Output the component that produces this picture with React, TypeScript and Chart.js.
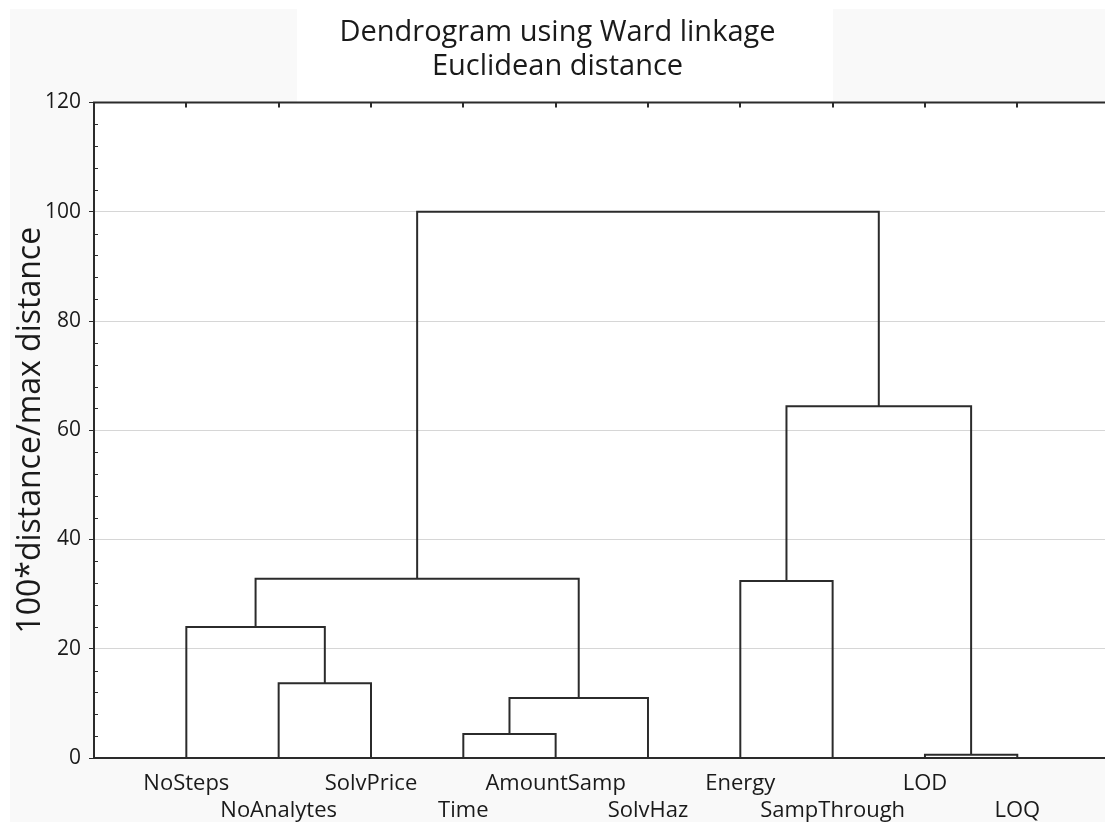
import React, { useEffect, useRef } from "react";
import { Chart, registerables } from "chart.js";

Chart.register(...registerables);

// ---- data ----
const leafLabels = [
  "NoSteps",
  "NoAnalytes",
  "SolvPrice",
  "Time",
  "AmountSamp",
  "SolvHaz",
  "Energy",
  "SampThrough",
  "LOD",
  "LOQ",
];
// linkage: node ids 0..9 are leaves, each merge creates node 10, 11, ...
const mergeLeft = [8, 3, 11, 1, 0, 6, 14, 15, 16];
const mergeRight = [9, 4, 5, 2, 13, 7, 12, 10, 17];
const mergeHeight = [0.6, 4.4, 11.0, 13.7, 24.0, 32.4, 32.8, 64.4, 100];
const yTickValues = [0, 20, 40, 60, 80, 100, 120];
const titleLines = ["Dendrogram using Ward linkage", "Euclidean distance"];
const yAxisTitle = "100*distance/max distance";

const FONT = "'Open Sans', 'Noto Sans', sans-serif";
const LINE = "#2b2b2b";

function buildDatasets() {
  const pos: number[] = leafLabels.map((_, i) => i + 1);
  const hgt: number[] = leafLabels.map(() => 0);
  return mergeLeft.map((l, k) => {
    const r = mergeRight[k];
    const h = mergeHeight[k];
    const data = [
      { x: pos[l], y: hgt[l] },
      { x: pos[l], y: h },
      { x: pos[r], y: h },
      { x: pos[r], y: hgt[r] },
    ];
    pos.push((pos[l] + pos[r]) / 2);
    hgt.push(h);
    return {
      data,
      borderColor: LINE,
      borderWidth: 2,
      pointRadius: 0,
      fill: false,
      tension: 0,
      borderJoinStyle: "miter" as const,
    };
  });
}

const decorPlugin = {
  id: "decor",
  beforeDraw(chart: any) {
    const { ctx, chartArea, width, height } = chart;
    const { left, top, right, bottom } = chartArea;
    ctx.save();
    ctx.fillStyle = "#ffffff";
    ctx.fillRect(0, 0, width, height);
    ctx.fillStyle = "#f9f9f9";
    ctx.fillRect(10, 9, width - 10, height - 9);
    ctx.fillStyle = "#ffffff";
    ctx.fillRect(297, 9, 536, top - 9);
    ctx.fillRect(left, top, right - left, bottom - top);
    ctx.restore();
  },
  afterDraw(chart: any) {
    const { ctx, chartArea, scales } = chart;
    const { left, top, right } = chartArea;
    ctx.save();
    ctx.strokeStyle = LINE;
    // top frame line
    ctx.lineWidth = 2;
    ctx.beginPath();
    ctx.moveTo(left - 1, top);
    ctx.lineTo(right, top);
    ctx.stroke();
    // top ticks at leaf positions
    leafLabels.forEach((_, i) => {
      const x = Math.round(scales.x.getPixelForValue(i + 1));
      ctx.beginPath();
      ctx.moveTo(x, top);
      ctx.lineTo(x, top + 5);
      ctx.stroke();
    });
    // minor y ticks (inside)
    ctx.lineWidth = 1;
    for (let v = 0; v <= 120; v += 4) {
      if (v % 20 === 0) continue;
      const y = Math.round(scales.y.getPixelForValue(v)) + 0.5;
      ctx.beginPath();
      ctx.moveTo(left, y);
      ctx.lineTo(left + 4, y);
      ctx.stroke();
    }
    ctx.restore();
  },
};

export default function App() {
  const ref = useRef<HTMLCanvasElement | null>(null);
  useEffect(() => {
    if (!ref.current) return;
    const chart = new Chart(ref.current, {
      type: "line",
      data: { datasets: buildDatasets() as any },
      plugins: [decorPlugin],
      options: {
        animation: false,
        responsive: false,
        devicePixelRatio: 1,
        layout: { padding: { left: 10, top: 0, right: 0, bottom: 0 } },
        plugins: {
          legend: { display: false },
          tooltip: { enabled: false },
          title: {
            display: true,
            text: titleLines,
            color: "#1a1a1a",
            font: { family: FONT, size: 29, weight: "normal", lineHeight: 1.2 },
            padding: { top: 15, bottom: 17.9 },
          },
        },
        scales: {
          x: {
            type: "linear",
            min: 0,
            max: 10.95,
            afterFit: (s: any) => {
              s.height = 64;
            },
            afterBuildTicks: (s: any) => {
              s.ticks = leafLabels.map((_, i) => ({ value: i + 1 }));
            },
            grid: { display: false },
            border: { display: true, color: LINE, width: 2 },
            ticks: {
              autoSkip: false,
              maxRotation: 0,
              minRotation: 0,
              padding: 5,
              color: "#1a1a1a",
              font: { family: FONT, size: 22, lineHeight: 1.2 },
              callback: (v: any) => {
                const i = Math.round(Number(v)) - 1;
                const name = leafLabels[i] ?? "";
                return i % 2 === 0 ? [name] : ["", name];
              },
            },
          },
          y: {
            type: "linear",
            min: 0,
            max: 120,
            afterFit: (s: any) => {
              s.width = 84;
            },
            afterBuildTicks: (s: any) => {
              s.ticks = yTickValues.map((v) => ({ value: v }));
            },
            grid: {
              color: "#d6d6d6",
              lineWidth: 1,
              tickLength: 5,
              tickColor: LINE,
            },
            border: { display: true, color: LINE, width: 2 },
            ticks: {
              padding: 8,
              color: "#1a1a1a",
              font: { family: FONT, size: 21 },
            },
            title: {
              display: true,
              text: yAxisTitle,
              color: "#1a1a1a",
              font: { family: FONT, size: 32, weight: "normal", lineHeight: 1.2 },
              padding: { top: 2, bottom: 0 },
            },
          },
        },
      } as any,
    });
    return () => chart.destroy();
  }, []);
  return (
    <div style={{ position: "fixed", left: 0, top: 0, width: 1105, height: 822 }}>
      <canvas ref={ref} width={1105} height={822} style={{ display: "block" }} />
    </div>
  );
}
